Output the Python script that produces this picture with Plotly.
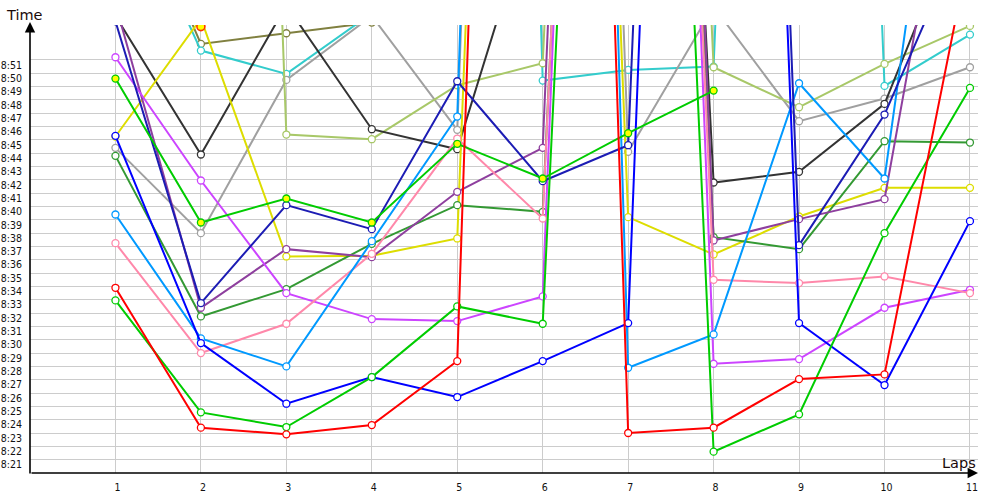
import plotly.graph_objects as go

# Lap numbers
laps = list(range(1, 12))

# Lap times in seconds (e.g. 513.9 s = 8:33.9); very large values are off-chart laps
red        = [513.9, 503.4, 502.9, 503.6, 508.4, 700.0, 503.0, 503.4, 507.05, 507.4, 539.4]
green_a    = [512.95, 504.55, 503.45, 507.2, 512.5, 511.2, 645.0, 501.6, 504.4, 518.0, 528.9]
green_b    = [529.6, 518.8, 520.6, 518.8, 524.7, 522.1, 525.5, 528.7, None, None, None]
blue       = [525.3, 509.75, 505.2, 507.2, 505.7, 508.4, 511.25, 675.0, 511.25, 506.6, 518.9]
navy       = [533.9, 512.75, 520.1, 518.3, 529.4, 521.9, 524.6, 678.0, 517.1, 526.9, 541.6]
light_blue = [519.4, 510.1, 508.0, 517.4, 526.75, 720.0, 507.9, 510.4, 529.25, 522.1, 568.0]
pink       = [517.25, 509.0, 511.2, 516.45, 525.1, 519.1, 660.0, 514.5, 514.25, 514.75, 513.5]
magenta    = [531.2, 521.95, 513.5, 511.55, 511.4, 513.25, 675.0, 508.2, 508.55, 512.4, 513.75]
purple     = [535.2, 512.4, 516.8, 516.2, 521.1, 524.4, 675.0, 517.45, 519.05, 520.55, 556.0]
dark_green = [523.8, 511.75, 513.8, 517.2, 520.1, 519.6, 655.0, 517.7, 516.8, 524.9, 524.8]
yellow     = [525.25, 534.1, 516.25, 516.3, 517.6, 680.0, 519.2, 516.4, 519.25, 521.4, 521.4]
light_olive= [560.0, 700.0, 525.4, 525.05, 529.1, 530.75, 670.0, 530.45, 527.45, 530.7, 533.55]
gray       = [524.4, 518.0, 529.5, 534.3, 525.75, 700.0, 524.1, 535.0, 526.4, 528.1, 530.45]
dark_gray  = [534.3, 523.9, 535.1, 525.8, 524.3, 545.0, 645.0, 521.8, 522.6, 527.7, 543.5]
cyan       = [545.8, 531.7, 529.95, 534.5, 740.0, 529.45, 530.25, 530.5, 690.0, 529.05, 532.9]
olive      = [547.0, 532.2, 533.0, 533.8, None, None, None, None, None, None, None]

# Single highlighted point at lap 2
special_lap = [2]
special_time = [533.5]

# Y tick values (seconds) and labels
y_ticks = list(range(501, 532))
y_labels = [f"8:{t - 480:02d}" for t in y_ticks]
x_ticks = laps
x_labels = [str(l) for l in laps]

series = [
    (olive, "#808040", "white"),
    (cyan, "#33cccc", "white"),
    (gray, "#a0a0a0", "white"),
    (light_olive, "#a8c868", "white"),
    (dark_gray, "#333333", "white"),
    (yellow, "#dddd00", "white"),
    (dark_green, "#339933", "white"),
    (purple, "#8e3f9e", "white"),
    (magenta, "#cc44ff", "white"),
    (pink, "#ff88aa", "white"),
    (light_blue, "#0099ff", "white"),
    (navy, "#1c1cb4", "white"),
    (blue, "#0000ff", "white"),
    (green_b, "#00cc00", "#ffff00"),
    (green_a, "#00cc00", "white"),
    (red, "#ff0000", "white"),
]

fig = go.Figure()
for vals, col, fill in series:
    fig.add_trace(go.Scatter(
        x=laps, y=vals, mode="lines+markers",
        line=dict(color=col, width=2),
        marker=dict(symbol="circle", size=7, color=fill, line=dict(color=col, width=1.3)),
        connectgaps=False, showlegend=False, hoverinfo="skip",
    ))

fig.add_trace(go.Scatter(
    x=special_lap, y=special_time, mode="markers",
    marker=dict(symbol="circle", size=8, color="#ffff00", line=dict(color="#ff3300", width=1.6)),
    showlegend=False, hoverinfo="skip",
))

tick_font = dict(family="DejaVu Sans Condensed", size=10.5, color="#111111")

fig.update_layout(
    width=1000, height=500,
    margin=dict(l=30, r=22, t=25, b=27),
    paper_bgcolor="white", plot_bgcolor="white",
    xaxis=dict(
        range=[0, 11.094], tickmode="array", tickvals=x_ticks, ticktext=x_labels,
        showgrid=True, gridcolor="#cccccc", gridwidth=1, zeroline=False, showline=False,
        ticks="", tickfont=tick_font, ticklabelstandoff=6, ticklabelshift=2,
        fixedrange=True, automargin=False,
    ),
    yaxis=dict(
        range=[500, 533.62], tickmode="array", tickvals=y_ticks, ticktext=y_labels,
        showgrid=True, gridcolor="#cccccc", gridwidth=1, zeroline=False, showline=False,
        ticks="", tickfont=tick_font, ticklabelstandoff=7, ticklabelshift=5,
        fixedrange=True, automargin=False,
    ),
)

# Axis arrows
fig.add_annotation(xref="paper", yref="paper", x=0, y=1.0067, ax=0, ay=453,
                   axref="pixel", ayref="pixel", text="", showarrow=True,
                   arrowhead=2, arrowsize=1.3, arrowwidth=1.6, arrowcolor="black")
fig.add_annotation(xref="paper", yref="paper", x=1.0, y=0, ax=-948, ay=0,
                   axref="pixel", ayref="pixel", text="", showarrow=True,
                   arrowhead=2, arrowsize=1.3, arrowwidth=1.6, arrowcolor="black")

# Axis titles
fig.add_annotation(xref="paper", yref="paper", x=-0.0063, y=1.022, text="Time",
                   showarrow=False, xanchor="center", yanchor="middle",
                   font=dict(family="DejaVu Sans", size=14.5, color="#1a0a0a"))
fig.add_annotation(xref="paper", yref="paper", x=0.98, y=0.0223, text="Laps",
                   showarrow=False, xanchor="center", yanchor="middle",
                   font=dict(family="DejaVu Sans", size=14.5, color="#1a0a0a"))

fig.write_html("out.html", config={"displayModeBar": False},
               post_script="document.body.style.margin='0px';")
